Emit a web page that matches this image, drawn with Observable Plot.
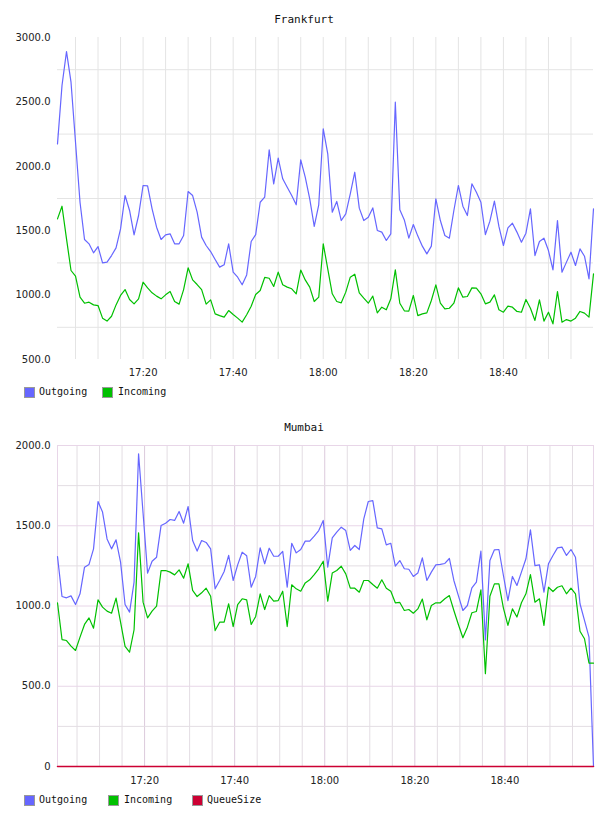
<!DOCTYPE html>
<html><head><meta charset="utf-8">
<script src="https://cdn.jsdelivr.net/npm/d3@7"></script>
<script src="https://cdn.jsdelivr.net/npm/@observablehq/plot@0.6"></script>
<style>
body{margin:0;background:#fff;}
#page{position:relative;width:608px;height:816px;overflow:hidden;background:#fff;font-family:"DejaVu Sans Mono",monospace;}
.title{position:absolute;left:0;width:608px;text-align:center;font-size:11px;color:#111;line-height:14px;}
.chart{position:absolute;left:0;}
.sw{position:absolute;width:9px;height:9px;border:1px solid #999;}
.lt{position:absolute;font-size:10px;line-height:12px;color:#111;white-space:nowrap;}
</style></head><body>
<div id="page"></div>
<script>
// ---- data ----
const frankfurtStart = "17:01:00";
const mumbaiStart = "17:00:40";
const seriesNamesFrankfurt = ["Outgoing", "Incoming"];
const seriesNamesMumbai = ["Outgoing", "Incoming", "QueueSize"];
const frankfurtOutgoing = [2174,2627,2891,2653,2187,1721,1432,1398,1328,1377,
1250,1256,1307,1367,1514,1773,1657,1468,1618,1851,
1848,1670,1527,1432,1468,1476,1398,1398,1463,1804,
1773,1644,1450,1385,1338,1276,1217,1235,1398,1178,
1139,1080,1157,1416,1470,1721,1760,2128,1864,2063,
1903,1838,1773,1701,2050,1916,1747,1533,1701,2291,
2097,1644,1727,1579,1631,1786,1954,1675,1579,1605,
1677,1502,1489,1424,1476,2498,1662,1584,1442,1548,
1458,1380,1320,1380,1747,1579,1463,1442,1657,1851,
1690,1618,1864,1799,1721,1470,1574,1729,1533,1385,
1522,1558,1489,1411,1481,1670,1307,1416,1442,1346,
1196,1579,1178,1256,1333,1230,1359,1302,1126,1670];
const frankfurtIncoming = [1592,1690,1437,1191,1147,984,937,945,924,919,
821,798,836,924,997,1043,966,932,971,1100,
1056,1018,992,971,1002,1028,950,930,1043,1212,
1118,1082,1043,930,963,854,841,829,880,849,
821,790,847,914,1005,1036,1137,1131,1067,1178,
1080,1062,1049,1010,1194,1118,1062,950,984,1398,
1204,1010,950,940,1023,1139,1162,1018,976,937,
992,862,906,886,971,1196,937,878,875,997,
841,854,862,958,1080,937,893,898,937,1056,
984,989,1056,1054,1010,932,945,1002,886,867,
914,906,873,867,966,898,803,963,798,867,
777,1028,790,810,798,821,873,860,829,1165];
const mumbaiOutgoing = [1308,1059,1051,1063,1009,1076,1242,1259,1356,1651,
1585,1418,1356,1412,1273,1009,962,1149,1948,1578,
1205,1279,1304,1502,1516,1539,1533,1589,1516,1620,
1408,1342,1408,1396,1356,1107,1159,1215,1315,1159,
1256,1335,1313,1117,1184,1362,1263,1360,1310,1310,
1340,1117,1391,1331,1352,1404,1404,1435,1470,1533,
1242,1425,1460,1491,1470,1346,1377,1352,1543,1651,
1657,1487,1481,1381,1391,1248,1283,1232,1229,1184,
1205,1300,1159,1211,1256,1259,1265,1296,1159,1065,
972,1003,1113,1149,1342,789,1283,1350,1352,1190,
1034,1184,1128,1211,1294,1475,1252,1256,1086,1263,
1315,1362,1367,1315,1352,1304,1014,910,806,0];
const mumbaiIncoming = [1020,791,785,750,723,806,885,926,862,1038,
993,968,955,1049,899,748,712,852,1456,1024,
926,968,999,1221,1221,1211,1194,1225,1173,1263,
1097,1059,1082,1111,1061,847,899,899,1014,872,
1009,1045,1038,885,935,1076,978,1065,1030,1034,
1092,872,1132,1107,1092,1144,1163,1196,1232,1279,
1030,1205,1221,1248,1200,1111,1111,1086,1159,1159,
1134,1111,1163,1111,1092,1020,1022,972,978,955,
982,1043,914,1003,1020,1020,1045,1065,972,885,
802,868,958,966,1101,578,1061,1138,1138,987,
879,982,931,1020,1076,1196,1024,1045,879,1117,
1090,1117,1126,1076,1111,1076,843,796,644,644];
const mumbaiQueueSize = [0,0,0,0,0,0,0,0,0,0,
0,0,0,0,0,0,0,0,0,0,
0,0,0,0,0,0,0,0,0,0,
0,0,0,0,0,0,0,0,0,0,
0,0,0,0,0,0,0,0,0,0,
0,0,0,0,0,0,0,0,0,0,
0,0,0,0,0,0,0,0,0,0,
0,0,0,0,0,0,0,0,0,0,
0,0,0,0,0,0,0,0,0,0,
0,0,0,0,0,0,0,0,0,0,
0,0,0,0,0,0,0,0,0,0,
0,0,0,0,0,0,0,0,0,0];
const xTickLabels = ["17:20","17:40","18:00","18:20","18:40"];
const frankfurtYTicks = [500,1000,1500,2000,2500,3000];
const frankfurtGridY = [750,1250,1750,2250,2750];
const mumbaiYTicks = [0,500,1000,1500,2000];
const mumbaiGridMinorY = [250,750,1250,1750];
const mumbaiGridMajorY = [500,1000,1500];
const colors = {Outgoing:"#6666ff", Incoming:"#00c000", QueueSize:"#cc0033"};

// ---- helpers ----
function tm(hms){const p=hms.split(":").map(Number);return new Date(Date.UTC(2020,0,1,p[0],p[1],p[2]||0));}
function series(start, values){const t0=tm(start);return values.map((v,i)=>({time:new Date(+t0+i*60000), value:v}));}
const fmtTime = d3.utcFormat("%H:%M");
const xTicks = xTickLabels.map(s=>tm(s));
const gridTimes = d3.utcMinute.every(5).range(tm("17:05"), tm("18:56"));
const majorKeys = new Set(xTickLabels);
const minorTimes = gridTimes.filter(d=>!majorKeys.has(fmtTime(d)));
const page = document.getElementById("page");

function addTitle(text, top){const d=document.createElement("div");d.className="title";d.style.top=top+"px";d.textContent=text;page.appendChild(d);}
function addLegend(items, top){
  for(const it of items){
    const s=document.createElement("div");s.className="sw";s.style.left=it.sx+"px";s.style.top=top+"px";s.style.background=colors[it.name];page.appendChild(s);
    const t=document.createElement("div");t.className="lt";t.style.left=it.tx+"px";t.style.top=(top-1)+"px";t.textContent=it.name;page.appendChild(t);
  }
}
const baseStyle = {fontFamily:"DejaVu Sans", fontSize:"10px", color:"#222", background:"transparent", overflow:"visible"};

// ---- Frankfurt ----
addTitle("Frankfurt", 13);
const fOut = series(frankfurtStart, frankfurtOutgoing);
const fIn = series(frankfurtStart, frankfurtIncoming);
const chart1 = Plot.plot({
  width:608, height:384, marginTop:37, marginBottom:25, marginLeft:57, marginRight:15,
  style: baseStyle,
  x:{type:"utc", domain:[fOut[0].time, fOut[fOut.length-1].time]},
  y:{domain:[500,3000]},
  marks:[
    Plot.ruleX(gridTimes, {stroke:"#e4e4e4", strokeWidth:1}),
    Plot.ruleY(frankfurtGridY, {stroke:"#e4e4e4", strokeWidth:1}),
    Plot.axisY({ticks:frankfurtYTicks, tickSize:0, tickPadding:7, tickFormat:d=>d.toFixed(1), label:null}),
    Plot.axisX({ticks:xTicks, tickSize:0, tickPadding:9, tickFormat:fmtTime, label:null}),
    Plot.line(fOut, {x:"time", y:"value", stroke:colors.Outgoing, strokeWidth:1.2}),
    Plot.line(fIn, {x:"time", y:"value", stroke:colors.Incoming, strokeWidth:1.2})
  ]
});
chart1.classList.add("chart"); chart1.style.top="0px"; chart1.style.position="absolute";
page.appendChild(chart1);
addLegend([{name:"Outgoing", sx:24, tx:39},{name:"Incoming", sx:102, tx:118}], 387);

// ---- Mumbai ----
addTitle("Mumbai", 421);
const mOut = series(mumbaiStart, mumbaiOutgoing);
const mIn = series(mumbaiStart, mumbaiIncoming);
const mQ = series(mumbaiStart, mumbaiQueueSize);
const chart2 = Plot.plot({
  width:608, height:392, marginTop:45, marginBottom:26, marginLeft:57, marginRight:15,
  style: baseStyle,
  x:{type:"utc", domain:[mOut[0].time, mOut[mOut.length-1].time]},
  y:{domain:[0,2000]},
  marks:[
    Plot.ruleX(minorTimes, {stroke:"#e3dde3", strokeWidth:1}),
    Plot.ruleX(xTicks, {stroke:"#dccadc", strokeWidth:1}),
    Plot.ruleY(mumbaiGridMinorY, {stroke:"#e3dde3", strokeWidth:1}),
    Plot.ruleY(mumbaiGridMajorY, {stroke:"#e8d6e8", strokeWidth:1}),
    Plot.frame({stroke:"#e8d6e8"}),
    Plot.axisY({ticks:mumbaiYTicks, tickSize:0, tickPadding:7, tickFormat:d=>d===0?"0":d.toFixed(1), label:null}),
    Plot.axisX({ticks:xTicks, tickSize:0, tickPadding:10, tickFormat:fmtTime, label:null}),
    Plot.line(mOut, {x:"time", y:"value", stroke:colors.Outgoing, strokeWidth:1.2}),
    Plot.line(mIn, {x:"time", y:"value", stroke:colors.Incoming, strokeWidth:1.2}),
    Plot.line(mQ, {x:"time", y:"value", stroke:colors.QueueSize, strokeWidth:1.5})
  ]
});
chart2.classList.add("chart"); chart2.style.top="400px"; chart2.style.position="absolute";
page.appendChild(chart2);
addLegend([{name:"Outgoing", sx:24, tx:39},{name:"Incoming", sx:108, tx:124},{name:"QueueSize", sx:192, tx:207}], 795);
</script>
</body></html>
